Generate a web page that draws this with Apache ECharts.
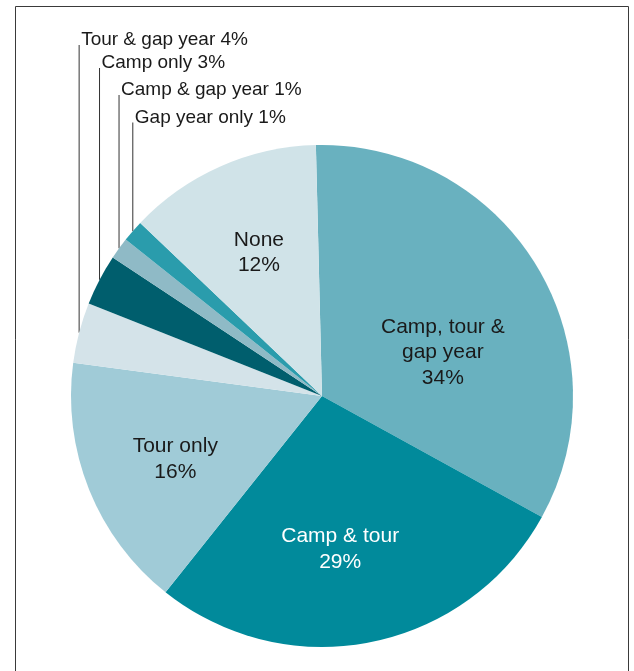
<!DOCTYPE html>
<html>
<head>
<meta charset="utf-8">
<script src="https://cdn.jsdelivr.net/npm/echarts@6/dist/echarts.min.js"></script>
<style>
  html, body { margin: 0; padding: 0; background: #ffffff; }
  #chart { width: 634px; height: 671px; }
</style>
</head>
<body>
<div id="chart"></div>
<script>
// ---- data ----
const categories = ['Camp, tour &\ngap year', 'Camp & tour', 'Tour only', 'Tour & gap year', 'Camp only', 'Camp & gap year', 'Gap year only', 'None'];
const values = [33.4, 27.7, 16.4, 3.9, 3.3, 1.4, 1.4, 12.5];
const percentLabels = [34, 29, 16, 4, 3, 1, 1, 12];

// ---- styles ----
const colors = ['#69B1BF', '#018A9B', '#A0CBD7', '#D4E3E9', '#005E6D', '#8FBAC6', '#2A9CAC', '#D0E3E8'];
const outsideIdx = [3, 4, 5, 6];
const outerRowY = [40, 63, 90, 117.5];
const innerShift = { 0: [11, 23], 1: [-7, 27], 2: [-27.5, 15], 7: [-11, -26] };
const FONT = '"Liberation Sans", Arial, Helvetica, sans-serif';

const chart = echarts.init(document.getElementById('chart'), null, { renderer: 'canvas' });

const data = categories.map((name, i) => {
  const isOut = outsideIdx.includes(i);
  return {
    name: name,
    value: values[i],
    itemStyle: { color: colors[i] },
    label: isOut
      ? { position: 'outside', fontSize: 19, color: '#1a1a1a' }
      : { position: 'inside', fontSize: 21, lineHeight: 25.5, color: i === 1 ? '#ffffff' : '#1a1a1a' },
    labelLine: { show: isOut }
  };
});

chart.setOption({
  animation: false,
  backgroundColor: '#ffffff',
  graphic: [{
    type: 'rect',
    shape: { x: 15.5, y: 6.5, width: 613, height: 720 },
    style: { fill: 'none', stroke: '#3a3a3a', lineWidth: 1 },
    silent: true
  }],
  series: [{
    type: 'pie',
    center: [322, 396],
    radius: 251,
    startAngle: 91.4,
    clockwise: true,
    avoidLabelOverlap: false,
    itemStyle: { borderWidth: 0 },
    emphasis: { disabled: true },
    label: {
      fontFamily: FONT,
      formatter: function (p) {
        const i = p.dataIndex;
        if (outsideIdx.includes(i)) return categories[i] + ' ' + percentLabels[i] + '%';
        return categories[i] + '\n' + percentLabels[i] + '%';
      }
    },
    labelLine: {
      length: 10, length2: 10,
      lineStyle: { color: '#333333', width: 1 }
    },
    labelLayout: function (p) {
      const i = p.dataIndex;
      const k = outsideIdx.indexOf(i);
      if (k >= 0 && p.labelLinePoints) {
        const pt = p.labelLinePoints[0];
        const y = outerRowY[k];
        return {
          x: pt[0] + 2,
          y: y,
          align: 'left',
          verticalAlign: 'middle',
          labelLinePoints: [[pt[0], pt[1]], [pt[0], y + 5], [pt[0], y + 5]]
        };
      }
      const s = innerShift[i];
      if (s) return { dx: s[0], dy: s[1] };
      return {};
    },
    data: data
  }]
});
</script>
</body>
</html>
